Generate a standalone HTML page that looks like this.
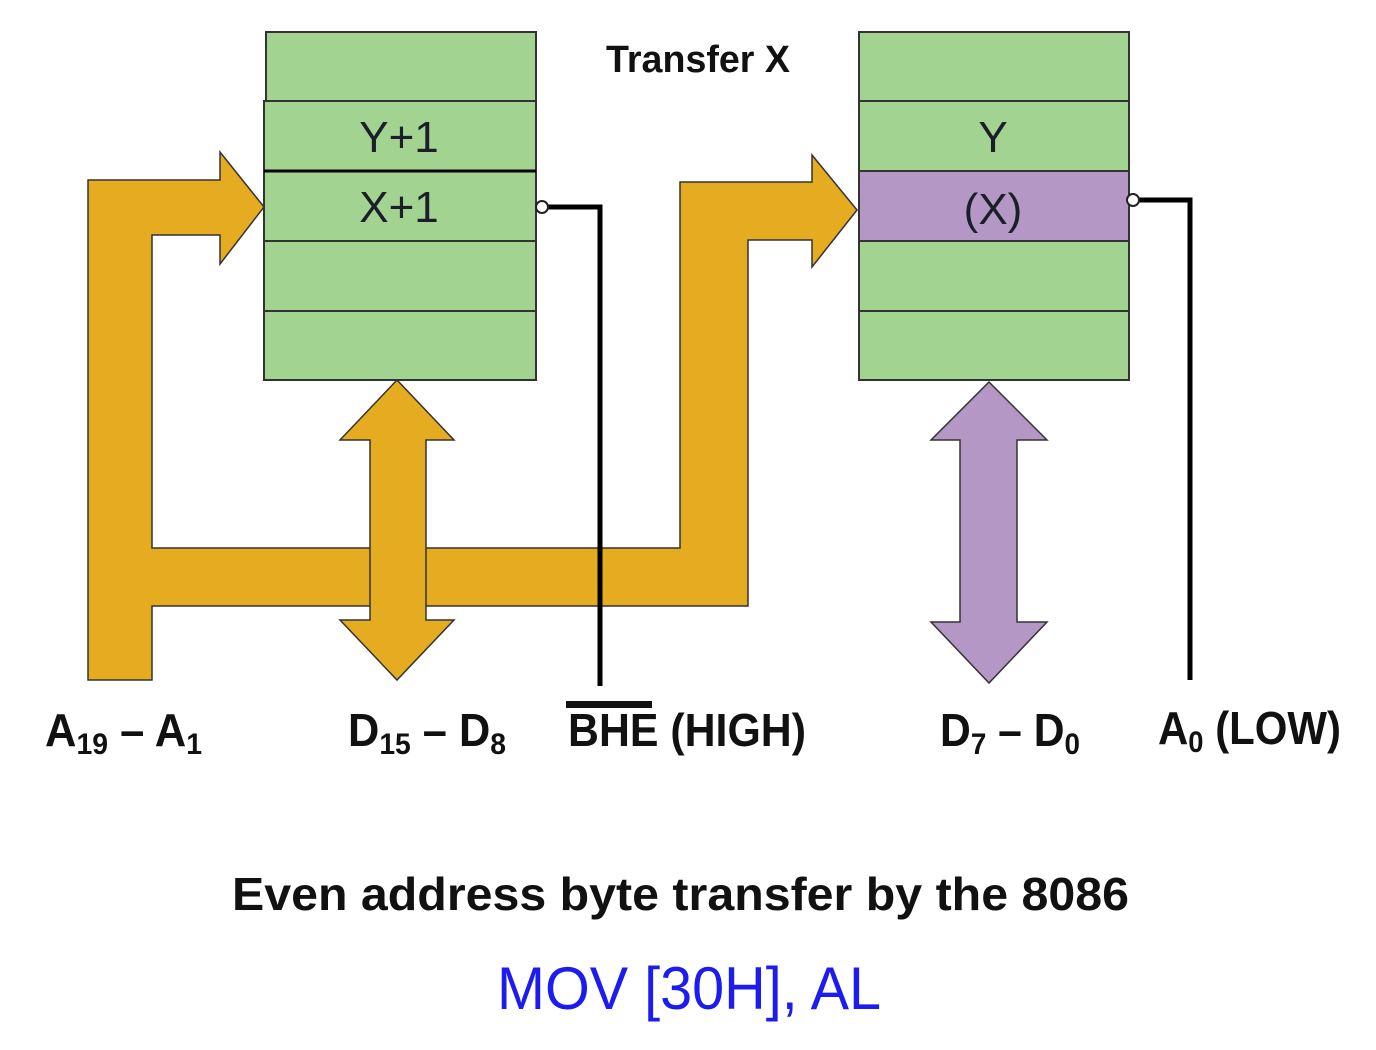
<!DOCTYPE html>
<html><head><style>body{margin:0;background:#fff}svg{display:block}</style></head><body>
<svg width="1376" height="1050" viewBox="0 0 1376 1050" xmlns="http://www.w3.org/2000/svg" font-family="Liberation Sans, sans-serif">
<!-- left memory -->
<g stroke="#333" stroke-width="2" fill="#a2d391">
<rect x="266" y="32" width="270" height="69"/>
<rect x="264" y="101" width="272" height="70"/>
<rect x="264" y="171" width="272" height="70"/>
<rect x="264" y="241" width="272" height="70"/>
<rect x="264" y="311" width="272" height="69"/>
</g>
<line x1="264" y1="171" x2="536" y2="171" stroke="#000" stroke-width="3"/>
<!-- right memory -->
<g stroke="#333" stroke-width="2" fill="#a2d391">
<rect x="859" y="32" width="270" height="69"/>
<rect x="859" y="101" width="270" height="70"/>
<rect x="859" y="171" width="270" height="70" fill="#b597c5"/>
<rect x="859" y="241" width="270" height="70"/>
<rect x="859" y="311" width="270" height="69"/>
</g>
<g font-size="44" fill="#1a1f2a" text-anchor="middle">
<text x="399" y="152">Y+1</text>
<text x="399" y="222">X+1</text>
<text x="993" y="152">Y</text>
<text x="993" y="224">(X)</text>
</g>
<!-- yellow address bus -->
<g fill="#e5ac22" stroke="#333" stroke-width="1.5">
<path d="M88 180 H220 V152 L264 207 L220 264 V235 H152 V548 H680 V182 H812 V155 L857 210 L812 267 V240 H748 V606 H152 V680 H88 Z"/>
<!-- D15-D8 double arrow -->
<path d="M397 380 L454 440 H426 V620 H454 L397 680 L340 620 H370 V440 H340 Z"/>
</g>
<!-- purple double arrow -->
<path d="M989 382 L1047 440 H1017 V622 H1047 L989 683 L931 622 H960 V440 H931 Z" fill="#b597c5" stroke="#333" stroke-width="1.5"/>
<!-- control lines -->
<polyline points="546,207 600,207 600,686" fill="none" stroke="#000" stroke-width="5"/>
<circle cx="542" cy="207" r="6" fill="#fff" stroke="#222" stroke-width="2"/>
<polyline points="1138,200 1190,200 1190,680" fill="none" stroke="#000" stroke-width="5"/>
<circle cx="1133" cy="200" r="6" fill="#fff" stroke="#222" stroke-width="2"/>
<!-- texts -->
<text x="606" y="72" font-size="38" font-weight="bold" fill="#111" textLength="184" lengthAdjust="spacingAndGlyphs">Transfer X</text>
<g font-size="46" font-weight="bold" fill="#111">
<text x="45" y="746" textLength="157" lengthAdjust="spacingAndGlyphs">A<tspan font-size="30" dy="8">19</tspan><tspan dy="-8"> – A</tspan><tspan font-size="30" dy="8">1</tspan></text>
<text x="348" y="746" textLength="158" lengthAdjust="spacingAndGlyphs">D<tspan font-size="30" dy="8">15</tspan><tspan dy="-8"> – D</tspan><tspan font-size="30" dy="8">8</tspan></text>
<text x="568" y="746" textLength="238" lengthAdjust="spacingAndGlyphs">BHE (HIGH)</text>
<text x="940" y="746" textLength="140" lengthAdjust="spacingAndGlyphs">D<tspan font-size="30" dy="8">7</tspan><tspan dy="-8"> – D</tspan><tspan font-size="30" dy="8">0</tspan></text>
<text x="1158" y="744" textLength="183" lengthAdjust="spacingAndGlyphs">A<tspan font-size="30" dy="8">0</tspan><tspan dy="-8"> (LOW)</tspan></text>
</g>
<rect x="566" y="701" width="86" height="7" fill="#111"/>
<text x="232" y="910" font-size="46" font-weight="bold" fill="#111" textLength="897" lengthAdjust="spacingAndGlyphs">Even address byte transfer by the 8086</text>
<text x="497" y="1009" font-size="60" fill="#1c1cf0" textLength="384" lengthAdjust="spacingAndGlyphs">MOV [30H], AL</text>
</svg>
</body></html>
